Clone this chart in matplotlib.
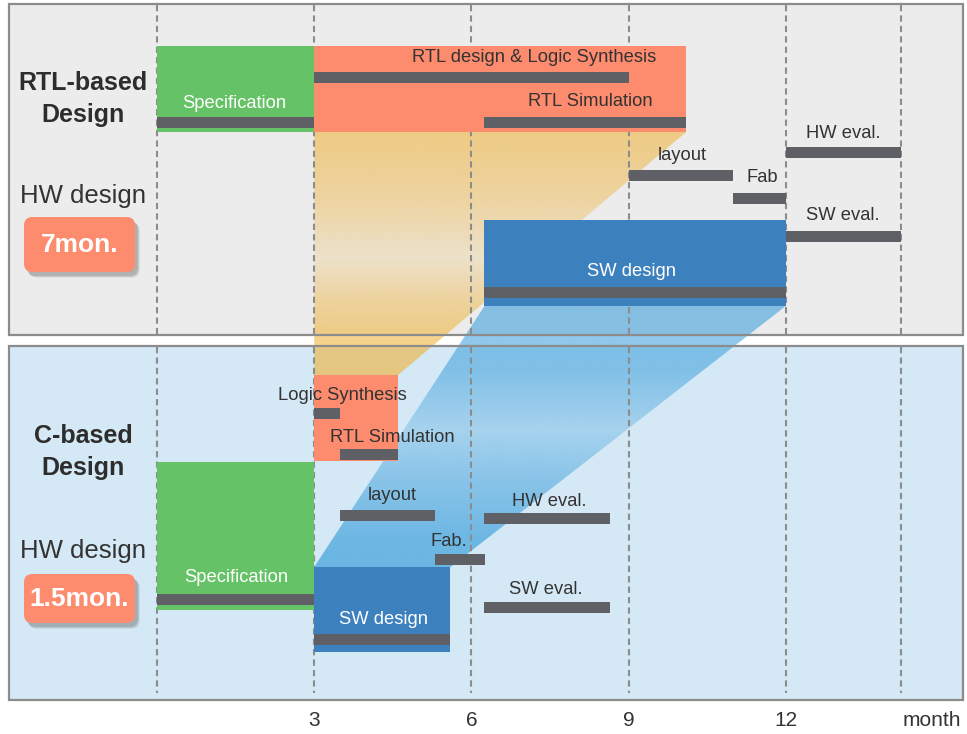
import numpy as np
import matplotlib
matplotlib.use("Agg")
import matplotlib.pyplot as plt
from matplotlib import font_manager
from matplotlib.patches import Rectangle, Polygon, FancyBboxPatch
from matplotlib.colors import to_rgb

# ------------------------------------------------------------
# Datos
# ------------------------------------------------------------
month_ticks = [3, 6, 9, 12]
grid_months = [0, 3, 6, 9, 12, 14.2]

rtl_tasks = ["Specification", "RTL design & Logic Synthesis", "RTL Simulation",
             "layout", "Fab", "HW eval.", "SW eval.", "SW design"]
rtl_start = [0, 3, 6.25, 9, 11, 12, 12, 6.25]
rtl_end = [3, 9, 10.1, 11, 12, 14.2, 14.2, 12]

c_tasks = ["Specification", "Logic Synthesis", "RTL Simulation",
           "layout", "Fab.", "HW eval.", "SW eval.", "SW design"]
c_start = [0, 3, 3.5, 3.5, 5.3, 6.25, 6.25, 3]
c_end = [3, 3.5, 4.6, 5.3, 6.25, 8.65, 8.65, 5.6]

# fases (spec, hw, sw)
rtl_phase_start = [0, 3, 6.25]
rtl_phase_end = [3, 10.1, 12]
c_phase_start = [0, 3, 3]
c_phase_end = [3, 4.6, 5.6]

flow_names = ["RTL-based\nDesign", "C-based\nDesign"]
hw_duration = ["7mon.", "1.5mon."]

# ------------------------------------------------------------
# Layout (pixeles en y)
# ------------------------------------------------------------
W, H = 967, 734
PX0, PPM = 157, 52.4          # pixel del mes 0, pixeles por mes


def mx(px):
    return (px - PX0) / PPM


BAR_H = 11
rtl_bar_y = [122, 77.5, 122, 175, 198.5, 152.5, 236.5, 292.5]
rtl_lbl = [(1.47, 104), (7.19, 58), (8.26, 102), (10.02, 156), (11.55, 178),
           (13.09, 133), (13.09, 216), (9.06, 271)]
c_bar_y = [599, 413.5, 454, 515, 559, 518, 607.5, 639]
c_lbl = [(1.51, 578), (3.53, 395), (4.5, 438), (4.48, 496), (5.57, 542),
         (7.48, 501), (7.42, 590), (4.33, 620)]
white_lbl = {"Specification", "SW design"}

rtl_phase_y = [(46, 132), (46, 132), (220, 306)]
c_phase_y = [(462, 610), (375, 461), (567, 652)]

GREEN, SALMON, BLUE, BAR = "#66c266", "#fd8b6e", "#3c80bd", "#5e6066"
TXT = "#333333"
phase_colors = [GREEN, SALMON, BLUE]

names = {f.name for f in font_manager.fontManager.ttflist}
NARROW = "Liberation Sans Narrow" in names
TITLE_FONT = "Liberation Sans Narrow" if NARROW else "Liberation Sans"
TITLE_SIZE = 22 if NARROW else 18
plt.rcParams["font.family"] = ["Liberation Sans", "DejaVu Sans"]

fig = plt.figure(figsize=(W / 100, H / 100), dpi=100)
ax = fig.add_axes([0, 0, 1, 1])


def gradient_poly(xs, ys, color, stops, z):
    poly = Polygon(list(zip(xs, ys)), closed=True, facecolor="none",
                   edgecolor="none")
    ax.add_patch(poly)
    y0, y1 = min(ys), max(ys)
    yy = np.linspace(y0, y1, 300)
    alpha = np.interp(yy, [s[0] for s in stops], [s[1] for s in stops])
    img = np.zeros((300, 1, 4))
    img[..., :3] = to_rgb(color)
    img[:, 0, 3] = alpha
    im = ax.imshow(img, extent=(min(xs), max(xs), y1, y0), origin="upper",
                   aspect="auto", interpolation="bilinear", zorder=z)
    im.set_clip_path(poly)


# paneles
panels = [((4, 335), "#ececec"), ((346, 700), "#d4e8f5")]
for (py0, py1), fc in panels:
    ax.add_patch(Rectangle((mx(9), py0), mx(963) - mx(9), py1 - py0,
                           facecolor=fc, edgecolor="none", zorder=0))

# trapecios de transicion
hw_top_y, hw_bot_y = rtl_phase_y[1][1], c_phase_y[1][0]
gradient_poly([rtl_phase_start[1], rtl_phase_end[1], c_phase_end[1], c_phase_start[1]],
              [hw_top_y, hw_top_y, hw_bot_y, hw_bot_y], "#f0b030",
              [(132, 0.55), (200, 0.4), (258, 0.18), (300, 0.42), (335, 0.55), (375, 0.6)], 1)
sw_top_y, sw_bot_y = rtl_phase_y[2][1], c_phase_y[2][0]
gradient_poly([rtl_phase_start[2], rtl_phase_end[2], c_phase_end[2], c_phase_start[2]],
              [sw_top_y, sw_top_y, sw_bot_y, sw_bot_y], "#3ca0dc",
              [(306, 0.6), (370, 0.55), (430, 0.3), (480, 0.5), (540, 0.68), (567, 0.7)], 1.1)

# bordes de paneles
for (py0, py1), fc in panels:
    ax.add_patch(Rectangle((mx(9), py0), mx(963) - mx(9), py1 - py0,
                           facecolor="none", edgecolor="#8c8c8c", lw=1.6, zorder=2))

# lineas de meses
ax.vlines(grid_months, 5, 335, colors="#8c8c8c", lw=1.5, linestyles=(0, (3, 2)), zorder=2)
ax.vlines(grid_months, 347, 693, colors="#8c8c8c", lw=1.5, linestyles=(0, (3, 2)), zorder=2)

# cajas de fase
for starts, ends, ys in [(rtl_phase_start, rtl_phase_end, rtl_phase_y),
                         (c_phase_start, c_phase_end, c_phase_y)]:
    for s, e, (y0, y1), col in zip(starts, ends, ys, phase_colors):
        ax.add_patch(Rectangle((s, y0), e - s, y1 - y0, facecolor=col,
                               edgecolor="none", zorder=3))

# barras de tareas
for tasks, starts, ends, bys, lbls in [(rtl_tasks, rtl_start, rtl_end, rtl_bar_y, rtl_lbl),
                                       (c_tasks, c_start, c_end, c_bar_y, c_lbl)]:
    ax.barh(bys, np.array(ends) - np.array(starts), left=starts, height=BAR_H,
            color=BAR, zorder=4)
    for t, (lx, ly) in zip(tasks, lbls):
        col = "white" if t in white_lbl else TXT
        ax.text(lx, ly, t, ha="center", va="center", fontsize=13.2,
                color=col, zorder=5)

# etiquetas de la izquierda
left_x = mx(83)
title_y = [(83, 115), (436, 468)]
hw_y = [196, 551]
badge_y = [(217, 272), (574, 623)]
for name, (ty0, ty1), hy, (by0, by1), dur in zip(flow_names, title_y, hw_y, badge_y, hw_duration):
    l1, l2 = name.split("\n")
    ax.text(left_x, ty0, l1, ha="center", va="center", fontsize=TITLE_SIZE,
            fontweight="bold", family=TITLE_FONT, color="#2d2d2d", zorder=5)
    ax.text(left_x, ty1, l2, ha="center", va="center", fontsize=TITLE_SIZE,
            fontweight="bold", family=TITLE_FONT, color="#2d2d2d", zorder=5)
    ax.text(left_x, hy, "HW design", ha="center", va="center", fontsize=18.5,
            color=TXT, zorder=5)
    bx0, bx1 = mx(24), mx(135)
    for k, a in [(3, 0.08), (2, 0.12), (1, 0.18)]:
        ax.add_patch(FancyBboxPatch((bx0 + (2 + k) / PPM, by0 + 3 + k), bx1 - bx0, by1 - by0,
                                    boxstyle="round,pad=0,rounding_size=0.16",
                                    mutation_aspect=PPM, facecolor="#404040",
                                    alpha=a, edgecolor="none", zorder=4))
    ax.add_patch(FancyBboxPatch((bx0, by0), bx1 - bx0, by1 - by0,
                                boxstyle="round,pad=0,rounding_size=0.16",
                                mutation_aspect=PPM, facecolor=SALMON,
                                edgecolor="none", zorder=5))
    ax.text((bx0 + bx1) / 2, (by0 + by1) / 2, dur, ha="center", va="center",
            fontsize=19, fontweight="bold", color="white", zorder=6)

# eje de meses
for m in month_ticks:
    ax.text(m, 720, str(m), ha="center", va="center", fontsize=15, color=TXT)
ax.text(mx(932), 720, "month", ha="center", va="center", fontsize=15, color=TXT)

ax.set_xlim(mx(0), mx(W))
ax.set_ylim(H, 0)
ax.axis("off")

fig.savefig("out.png", dpi=100)
